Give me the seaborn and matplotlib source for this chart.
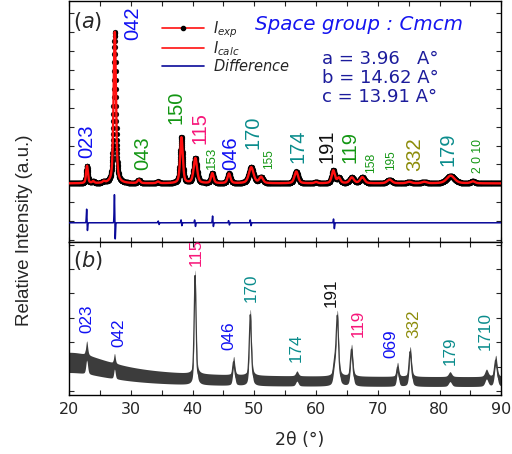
import numpy as np
import matplotlib
matplotlib.use("Agg")
import matplotlib.pyplot as plt
from matplotlib.lines import Line2D
from matplotlib.ticker import MultipleLocator, NullFormatter
import seaborn as sns

# ---------------- (a) refined pattern, intensity in % of the 042 reflection
peak_pos_a = [22.9, 23.9, 25.6, 27.4, 31.3, 34.4, 38.2, 40.45, 43.2, 45.9, 49.5, 51.1,
              56.8, 60.0, 62.8, 63.7, 65.8, 67.5, 71.9, 75.1, 77.5, 81.8, 85.4]
peak_height_a = [11.5, 1.2, 1.0, 100, 2.3, 1.1, 30.3, 16.6, 6.6, 6.4, 10.6, 4.0,
                 7.8, 0.8, 8.4, 3.5, 3.8, 4.0, 2.5, 1.0, 1.0, 5.1, 1.3]
peak_fwhm_a = [0.35, 0.4, 0.4, 0.45, 0.5, 0.5, 0.5, 0.65, 0.5, 0.55, 0.9, 0.7,
               0.7, 0.6, 0.6, 0.6, 0.8, 0.8, 0.9, 0.9, 0.9, 1.5, 0.8]

# residual lobes of the fit (difference curve)
resid_pos = [22.9, 27.4, 34.5, 38.2, 40.4, 43.3, 45.9, 49.4, 62.9]
resid_up = [9.3, 19.2, 1.2, 2.0, 2.0, 4.6, 1.5, 2.0, 2.7]
resid_down = [5.6, 11.7, 1.2, 2.0, 2.5, 2.7, 1.5, 2.0, 4.0]
diff_offset = -26

# ---------------- (b) as-measured pattern
peak_pos_b = [22.85, 27.35, 40.4, 46.65, 49.35, 56.9, 63.0, 63.45, 65.75, 73.2, 75.25,
              81.7, 87.6, 89.1]
peak_height_b = [11.5, 8.0, 85, 15, 54, 4.0, 12, 52, 26, 11.5, 24.5, 4.0, 6.0, 17.5]
peak_fwhm_b = [0.35, 0.3, 0.35, 0.4, 0.4, 0.5, 0.5, 0.45, 0.45, 0.4, 0.45, 0.6, 0.6, 0.5]
bg_flat_b = 7.4
bg_hump_b = (20.0, 16.0, 8.3)  # centre, height, half width
noise_b = (2.0, 0.27)          # band half-width = a + b * background

# ---------------- Miller index labels
hkl_a = ["023", "042", "043", "150", "115", "153", "046", "170", "155", "174",
         "191", "119", "158", "195", "332", "179", "2 0 10"]
hkl_a_x = [22.6, 30.0, 31.6, 37.0, 41.0, 42.9, 46.0, 49.6, 52.2, 56.9,
           61.6, 65.2, 68.6, 71.9, 75.7, 81.2, 86.0]
hkl_a_y = [17.1, 94.7, 9.1, 39.0, 26.3, 9.8, 9.1, 23.0, 9.8, 13.7,
           13.7, 13.7, 7.1, 9.1, 8.4, 11.7, 7.1]
hkl_a_col = ["blue", "blue", "green", "green", "pink", "green", "blue", "teal", "green", "teal",
             "black", "green", "green", "green", "olive", "teal", "green"]
small_a = {"153": 9.5, "155": 8.5, "158": 8.8, "195": 8.5, "2 0 10": 8.8}

hkl_b = ["023", "042", "115", "046", "170", "174", "191", "119", "069", "332", "179", "1710"]
hkl_b_x = [22.6, 27.8, 40.4, 45.6, 49.2, 56.5, 62.2, 66.6, 71.8, 75.65, 81.5, 87.1]
hkl_b_y = [47.7, 36.2, 102.9, 33.7, 73.3, 23.9, 69.1, 44.4, 27.2, 43.6, 21.4, 33.7]
hkl_b_col = ["blue", "blue", "pink", "blue", "teal", "teal", "black", "pink", "blue",
             "olive", "teal", "teal"]

lattice = ["a = 3.96   A°", "b = 14.62 A°", "c = 13.91 A°"]

palette = {"blue": "#1010f2", "green": "#139613", "pink": "#f7177a", "teal": "#0a8c8c",
           "olive": "#8c8c0a", "black": "#111111"}


def pv(x, pos, h, fwhm, eta=0.5):
    d = (x - pos) / fwhm
    return h * (eta / (1 + 4 * d ** 2) + (1 - eta) * np.exp(-4 * np.log(2) * d ** 2))


sns.set_style("ticks")
plt.rcParams["font.family"] = ["DejaVu Sans"]
plt.rcParams["mathtext.fontset"] = "dejavusans"

tt = np.arange(20, 90.001, 0.02)
calc_a = sum(pv(tt, p, h, w) for p, h, w in zip(peak_pos_a, peak_height_a, peak_fwhm_a))
diff_a = diff_offset + sum(u * np.exp(-0.5 * ((tt - p + 0.06) / 0.05) ** 2)
                           - d * np.exp(-0.5 * ((tt - p - 0.06) / 0.05) ** 2)
                           for p, u, d in zip(resid_pos, resid_up, resid_down))
bg_b = bg_flat_b + bg_hump_b[1] / (1 + ((tt - bg_hump_b[0]) / bg_hump_b[2]) ** 2)
obs_b = bg_b + sum(pv(tt, p, h, w) for p, h, w in zip(peak_pos_b, peak_height_b, peak_fwhm_b))
half_b = noise_b[0] + noise_b[1] * bg_b

fig = plt.figure(figsize=(5.12, 4.54), dpi=100)
gs = fig.add_gridspec(2, 1, height_ratios=[240, 153], hspace=0,
                      left=0.135, right=0.979, top=0.998, bottom=0.130)
ax1 = fig.add_subplot(gs[0])
ax2 = fig.add_subplot(gs[1], sharex=ax1)

# ---- panel (a)
sns.scatterplot(x=tt, y=calc_a, ax=ax1, s=12, color="black", edgecolor="black",
                linewidth=0.3, zorder=2, legend=False)
sns.lineplot(x=tt, y=calc_a, ax=ax1, color="#ff1010", linewidth=1.7, zorder=3)
sns.lineplot(x=tt, y=diff_a, ax=ax1, color="#0a0a9a", linewidth=1.1, zorder=3)
ax1.set_ylim(-38.4, 120.5)
ax1.yaxis.set_major_locator(MultipleLocator(12.5))

arial = ["Liberation Sans", "DejaVu Sans"]
for lab, x, y, c in zip(hkl_a, hkl_a_x, hkl_a_y, hkl_a_col):
    ax1.text(x + 0.25, y, lab, rotation=90, ha="center", va="bottom", color=palette[c],
             fontsize=small_a.get(lab, 14.5), family=arial)

ax1.text(0.01, 0.915, r"($\it{a}$)", transform=ax1.transAxes, fontsize=15, va="center")
ax1.text(0.43, 0.90, "Space group : Cmcm", transform=ax1.transAxes, fontsize=14.3,
         style="italic", color="#1515f0", va="center")
for i, s in enumerate(lattice):
    ax1.text(0.585, 0.758 - i * 0.079, s, transform=ax1.transAxes, fontsize=13,
             color="#1c1c9c", va="center")

handles = [Line2D([], [], color="#ff1010", lw=1.2, marker="o", markersize=3,
                  markerfacecolor="black", markeredgecolor="black"),
           Line2D([], [], color="#ff1010", lw=1.2),
           Line2D([], [], color="#0a0a9a", lw=1.2)]
ax1.legend(handles, [r"$I_{exp}$", r"$I_{calc}$", r"$Difference$"], loc="upper left",
           bbox_to_anchor=(0.215, 0.925), frameon=False, fontsize=10.5, handlelength=2.9,
           handletextpad=0.6, labelspacing=0.0, borderaxespad=0, borderpad=0)

# ---- panel (b)
ax2.fill_between(tt, obs_b - half_b, obs_b + half_b, color="#3c3c3c", lw=0)
sns.lineplot(x=tt, y=obs_b, ax=ax2, color="#3c3c3c", linewidth=0.9)
ax2.set_ylim(-3.3, 122.6)
ax2.yaxis.set_major_locator(MultipleLocator(20))
for lab, x, y, c in zip(hkl_b, hkl_b_x, hkl_b_y, hkl_b_col):
    ax2.text(x + 0.25, y, lab, rotation=90, ha="center", va="bottom", color=palette[c],
             fontsize=12.3, family=arial)
ax2.text(0.01, 0.876, r"($\it{b}$)", transform=ax2.transAxes, fontsize=15, va="center")

for ax in (ax1, ax2):
    ax.set_xlim(20, 90)
    ax.xaxis.set_major_locator(MultipleLocator(10))
    ax.xaxis.set_minor_locator(MultipleLocator(5))
    ax.tick_params(which="both", direction="in", length=3.5, width=0.8,
                   top=True, right=True, labelsize=11.5)
    ax.yaxis.set_major_formatter(NullFormatter())
    ax.set_xlabel("")
    ax.set_ylabel("")
    for sp in ax.spines.values():
        sp.set_linewidth(1.0)
        sp.set_color("black")
ax1.tick_params(labelbottom=False)
ax2.tick_params(axis="x", pad=5)

fig.text(0.586, 0.031, "2θ (°)", ha="center", va="center", fontsize=12.5)
fig.text(0.047, 0.493, "Relative Intensity (a.u.)", rotation=90, ha="center", va="center",
         fontsize=13.5, family=arial)

fig.savefig("out.png", dpi=100)
